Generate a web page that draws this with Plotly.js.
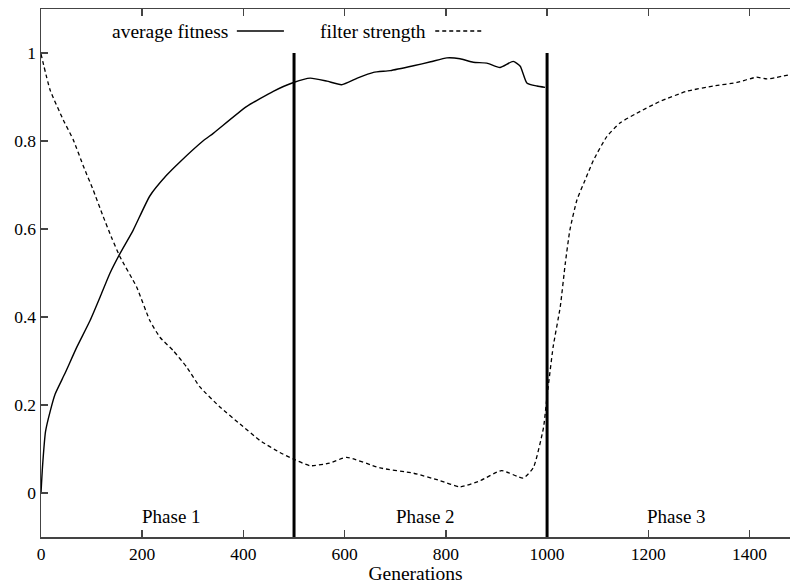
<!DOCTYPE html>
<html>
<head>
<meta charset="utf-8">
<script src="https://cdn.plot.ly/plotly-3.0.1.min.js"></script>
<style>html,body{margin:0;padding:0;background:#fff;}#chart{width:790px;height:585px;}</style>
</head>
<body>
<div id="chart"></div>
<script>
// Average fitness (solid line)
const fitnessX = [0, 3, 9, 18, 28, 47, 71, 97, 117, 136, 156, 182, 215, 248, 275, 320, 341, 406, 459, 499, 532, 565, 594, 625, 657, 690, 736, 770, 802, 828, 854, 881, 907, 933, 947, 960, 980, 996];
const fitnessY = [0, 0.06, 0.14, 0.185, 0.225, 0.271, 0.332, 0.392, 0.446, 0.499, 0.544, 0.597, 0.675, 0.722, 0.753, 0.800, 0.818, 0.878, 0.913, 0.933, 0.943, 0.936, 0.928, 0.943, 0.956, 0.960, 0.971, 0.980, 0.989, 0.987, 0.979, 0.977, 0.967, 0.981, 0.970, 0.932, 0.925, 0.922];

// Filter strength (dashed line)
const filterX = [0, 18, 44, 64, 84, 103, 123, 140, 156, 189, 215, 235, 261, 288, 314, 354, 393, 433, 472, 499, 532, 570, 604, 670, 736, 789, 828, 868, 910, 953, 973, 993, 999, 1012, 1026, 1036, 1045, 1059, 1075, 1092, 1118, 1144, 1177, 1223, 1276, 1329, 1375, 1414, 1434, 1480];
const filterY = [0.998, 0.916, 0.848, 0.802, 0.742, 0.689, 0.628, 0.579, 0.537, 0.468, 0.392, 0.354, 0.324, 0.286, 0.241, 0.195, 0.157, 0.119, 0.092, 0.077, 0.062, 0.068, 0.081, 0.057, 0.045, 0.028, 0.014, 0.028, 0.051, 0.034, 0.058, 0.149, 0.21, 0.332, 0.423, 0.522, 0.597, 0.666, 0.711, 0.757, 0.810, 0.841, 0.863, 0.890, 0.913, 0.925, 0.933, 0.945, 0.941, 0.951];

// Phase boundaries and labels
const phaseBounds = [500, 1000];
const phaseLabels = ["Phase 1", "Phase 2", "Phase 3"];
const phaseLabelX = [258, 759, 1256];

// Legend entries
const legendNames = ["average fitness", "filter strength"];

// Axis ticks
const xTicks = [0, 200, 400, 600, 800, 1000, 1200, 1400];
const yTicks = [0, 0.2, 0.4, 0.6, 0.8, 1];

const FONT = "Liberation Serif, Times New Roman, serif";
const AX = "#444";

const traces = [
  {x: fitnessX, y: fitnessY, type: "scatter", mode: "lines", name: legendNames[0],
   line: {color: "#000", width: 1.4, shape: "spline", smoothing: 0.5}, showlegend: false, hoverinfo: "skip"},
  {x: filterX, y: filterY, type: "scatter", mode: "lines", name: legendNames[1],
   line: {color: "#000", width: 1.3, dash: "4px,3px", shape: "spline", smoothing: 0.5}, showlegend: false, hoverinfo: "skip"}
];

const shapes = phaseBounds.map(b => ({
  type: "line", xref: "x", yref: "y", x0: b, x1: b, y0: -0.1, y1: 1.0,
  line: {color: "#000", width: 3}
}));
// legend samples
shapes.push({type: "line", xref: "x", yref: "y", x0: 387, x1: 480, y0: 1.05, y1: 1.05, line: {color: "#000", width: 1.3}});
shapes.push({type: "line", xref: "x", yref: "y", x0: 779, x1: 871, y0: 1.05, y1: 1.05, line: {color: "#000", width: 1.3, dash: "4px,3px"}});

const annotations = phaseLabels.map((t, i) => ({
  text: t, x: phaseLabelX[i], y: -0.054, xref: "x", yref: "y", showarrow: false,
  font: {family: FONT, size: 19, color: "#000"}
}));
annotations.push({text: legendNames[0], x: 374, y: 1.05, xref: "x", yref: "y", xanchor: "right", showarrow: false,
  font: {family: FONT, size: 19.5, color: "#000"}});
annotations.push({text: legendNames[1], x: 764, y: 1.05, xref: "x", yref: "y", xanchor: "right", showarrow: false,
  font: {family: FONT, size: 19.5, color: "#000"}});

const layout = {
  width: 790, height: 585,
  margin: {l: 41, r: 0, t: 9, b: 48, pad: 0},
  paper_bgcolor: "#fff", plot_bgcolor: "#fff",
  font: {family: FONT, color: "#000"},
  xaxis: {
    range: [0, 1480], tickvals: xTicks, ticks: "inside", ticklen: 7, tickwidth: 1.5, tickcolor: AX,
    showline: true, linecolor: AX, linewidth: 1.5, mirror: "ticks", showgrid: false, zeroline: false,
    tickfont: {family: FONT, size: 17.5, color: "#000"},
    title: {text: "Generations", font: {family: FONT, size: 19.5, color: "#000"}, standoff: 4}
  },
  yaxis: {
    range: [-0.1, 1.1], tickvals: yTicks, ticks: "inside", ticklen: 7, tickwidth: 1.5, tickcolor: AX,
    showline: true, linecolor: AX, linewidth: 1.5, mirror: false, showgrid: false, zeroline: false,
    tickfont: {family: FONT, size: 17.5, color: "#000"}
  },
  shapes: shapes,
  annotations: annotations,
  showlegend: false
};

Plotly.newPlot("chart", traces, layout, {staticPlot: true, displayModeBar: false});
</script>
</body>
</html>
